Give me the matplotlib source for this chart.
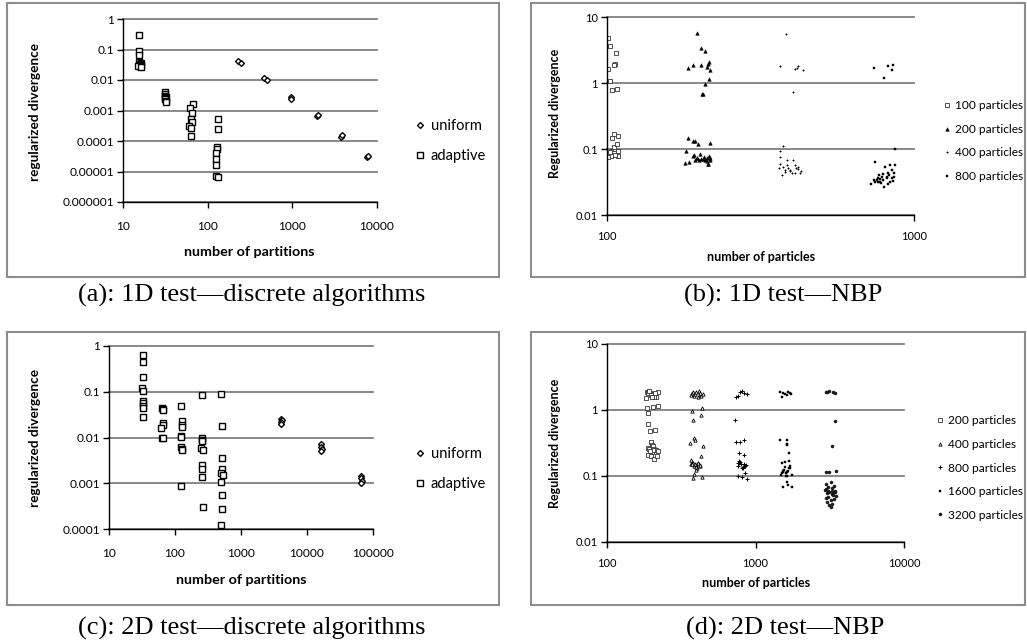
import numpy as np
import matplotlib
matplotlib.use('Agg')
import matplotlib.pyplot as plt
from matplotlib.patches import Rectangle
from matplotlib.ticker import FixedLocator, FuncFormatter, NullLocator

plt.rcParams['font.family'] = ['Lato', 'DejaVu Sans']

# ---- (a) 1D test, discrete algorithms ----
a_uni_x = [230, 246, 468, 499, 955, 960, 1930, 1990, 3750, 3900, 7620, 7750]
a_uni_y = [0.041, 0.037, 0.0118, 0.0099, 0.0027, 0.0024, 0.00066, 0.00072,
           0.000139, 0.000163, 3.1e-5, 3.25e-5]
a_ada_x = [15.5, 15.4, 15.6, 15.3, 16.2, 15.8, 16.5, 15.5, 16.0, 15.2, 16.4,
           31.5, 31.5, 31.0, 31.8, 31.2, 31.5, 32.0, 32.5,
           66.5, 61.5, 65.5, 63.5, 66, 61, 64, 64,
           133, 133, 128, 129, 125, 127, 127, 125, 133]
a_ada_y = [0.31, 0.088, 0.068, 0.038, 0.036, 0.034, 0.032, 0.030, 0.029, 0.028, 0.027,
           0.0040, 0.0035, 0.0030, 0.0027, 0.0025, 0.0023, 0.0021, 0.0019,
           0.0016, 0.0012, 0.00080, 0.00053, 0.00041, 0.00032, 0.00027, 0.000141,
           0.00053, 0.00024, 6.6e-5, 5.6e-5, 4.1e-5, 2.5e-5, 1.65e-5, 6.9e-6, 6.7e-6]

# ---- (c) 2D test, discrete algorithms ----
c_uni_x = [4100, 4150, 4050, 4100, 16500, 16300, 16600, 16400, 66000, 65000, 67000, 66000]
c_uni_y = [0.026, 0.024, 0.022, 0.0197, 0.0071, 0.0063, 0.0056, 0.0050,
           0.00147, 0.0013, 0.0011, 0.00101]
c_ada_x = [32.7, 32.7, 32.7, 32, 33.3, 32.5, 32.7, 32.5, 33, 32.5,
           63, 65, 66, 66, 65, 62, 64, 65,
           125, 128, 127, 128, 124, 125, 124, 127, 126, 124,
           258, 255, 258, 260, 248, 262, 258, 258, 256, 262,
           497, 515, 520, 515, 495, 530, 505, 512, 520, 500]
c_ada_y = [0.65, 0.45, 0.21, 0.118, 0.103, 0.064, 0.058, 0.048, 0.045, 0.028,
           0.045, 0.041, 0.039, 0.021, 0.019, 0.016, 0.010, 0.0097,
           0.05, 0.023, 0.019, 0.017, 0.011, 0.0102, 0.0062, 0.0056, 0.0054, 0.00085,
           0.084, 0.0097, 0.0089, 0.0082, 0.0059, 0.0053, 0.0025, 0.0021, 0.0014, 0.00031,
           0.089, 0.018, 0.0035, 0.0020, 0.0017, 0.0015, 0.00104, 0.00056, 0.00028, 0.000124]

# ---- (b) 1D test, NBP ----
b100_x = [101, 102, 107, 101, 106, 105, 102, 104, 108, 105, 109, 104, 105, 108, 103, 109, 105, 106, 103, 109, 101, 102]
b100_y = [4.86, 3.64, 2.88, 1.65, 1.96, 1.85, 1.07, 0.77, 0.80, 0.17, 0.16, 0.146, 0.108, 0.117,
          0.094, 0.079, 0.086, 0.082, 0.078, 0.092, 0.076, 0.089]
b200_x = [197, 203, 209, 183, 191, 203, 215, 214, 211, 216, 215, 208, 204, 206,
          184, 191, 193, 198, 217, 181,
          180, 185, 190, 192, 193, 196, 201, 203, 207, 209, 211, 213, 215, 216, 211, 205, 200, 197, 214, 217]
b200_y = [5.8, 3.4, 3.1, 1.67, 1.9, 1.85, 2.1, 1.96, 1.75, 1.6, 1.16, 0.95, 0.68, 0.69,
          0.149, 0.13, 0.13, 0.119, 0.125, 0.094,
          0.062, 0.063, 0.077, 0.081, 0.069, 0.073, 0.085, 0.071, 0.075, 0.069, 0.065, 0.060,
          0.078, 0.073, 0.072, 0.070, 0.069, 0.072, 0.059, 0.068]
b400_x = [384, 365, 410, 420, 435, 415, 403, 374, 365, 367, 385, 405, 366, 375, 380, 385, 390,
          372, 395, 400, 410, 414, 426, 428, 395, 379, 420, 410, 363, 418]
b400_y = [5.5, 1.81, 1.65, 1.81, 1.6, 1.7, 0.73, 0.112, 0.094, 0.0745, 0.069, 0.069, 0.059,
          0.053, 0.048, 0.057, 0.051, 0.040, 0.046, 0.044, 0.057, 0.051, 0.044, 0.047, 0.048,
          0.045, 0.049, 0.043, 0.051, 0.053]
b800_x = [740, 825, 855, 850, 800, 870, 745, 725, 745, 755, 765, 775, 785, 790, 800, 805, 815,
          820, 825, 830, 838, 845, 850, 855, 860, 865, 765, 780, 740, 775, 815, 835, 862, 770, 790]
b800_y = [1.71, 1.81, 1.9, 1.6, 1.21, 0.1, 0.064, 0.030, 0.032, 0.034, 0.036, 0.032, 0.038,
          0.034, 0.027, 0.053, 0.038, 0.043, 0.029, 0.040, 0.057, 0.036, 0.048, 0.033, 0.043,
          0.058, 0.032, 0.031, 0.034, 0.035, 0.036, 0.032, 0.038, 0.040, 0.042]

# ---- (d) 2D test, NBP ----
d200_x = [185, 190, 195, 200, 205, 210, 215, 220, 188, 198, 208, 183, 192, 202, 212,
          186, 203, 219, 188, 190, 210, 196, 197, 201, 205, 188, 207, 214, 221, 200, 193,
          190, 199, 208, 216, 205, 196]
d200_y = [1.9, 1.85, 1.8, 1.75, 1.7, 1.65, 1.6, 1.9, 1.8, 1.7, 1.55, 1.5, 1.95, 1.6, 1.8,
          1.06, 1.1, 1.14, 0.89, 0.61, 0.5, 0.48, 0.33, 0.29, 0.28, 0.265, 0.26, 0.25, 0.24,
          0.235, 0.255, 0.21, 0.2, 0.18, 0.2, 0.25, 0.24]
d400_x = [365, 372, 378, 385, 392, 400, 408, 415, 420, 425, 430, 440,
          375, 435, 430, 382, 362, 385, 392, 440, 430, 366,
          385, 370, 410, 395, 375, 420, 390, 405, 380, 425, 400, 372,
          395, 385, 380, 435, 410]
d400_y = [1.7, 1.8, 1.9, 1.65, 1.75, 1.85, 1.6, 1.95, 1.7, 1.8, 1.65, 1.75,
          0.98, 1.07, 0.84, 0.71, 0.32, 0.37, 0.35, 0.28, 0.2, 0.176,
          0.14, 0.15, 0.16, 0.145, 0.155, 0.14, 0.15, 0.13, 0.16, 0.145, 0.135, 0.15,
          0.124, 0.108, 0.093, 0.095, 0.155]
d800_x = [735, 785, 835, 870, 765, 810, 730, 735, 785, 835, 780, 835,
          800, 760, 850, 780, 830, 770, 860, 790, 820, 840, 765, 810,
          765, 810, 880, 850]
d800_y = [1.6, 1.9, 1.8, 1.75, 1.65, 1.95, 0.71, 0.33, 0.33, 0.35, 0.22, 0.21,
          0.15, 0.16, 0.14, 0.17, 0.13, 0.155, 0.145, 0.165, 0.135, 0.15, 0.14, 0.13,
          0.099, 0.097, 0.091, 0.11]
d1600_x = [1465, 1500, 1580, 1660, 1695, 1735, 1620, 1540,
           1455, 1620, 1630, 1620, 1670, 1500, 1580, 1680,
           1600, 1520, 1690, 1480, 1640, 1560, 1720, 1610, 1500, 1660, 1580, 1750, 1540, 1700, 1630,
           1620, 1540, 1660, 1760]
d1600_y = [1.9, 1.6, 1.75, 1.9, 1.8, 1.75, 1.7, 1.8,
           0.35, 0.35, 0.31, 0.30, 0.22, 0.16, 0.165, 0.17,
           0.11, 0.12, 0.13, 0.105, 0.115, 0.125, 0.14, 0.1, 0.11, 0.12, 0.135, 0.105, 0.115, 0.13, 0.1,
           0.082, 0.069, 0.074, 0.067]
d3200_x = [2980, 3150, 3350, 3450, 3050, 3450, 3250, 2980, 3150, 3480,
           3200, 3000, 3400, 3100, 3300, 2950, 3450, 3150, 3050, 3350, 3250, 3500,
           3100, 2970, 3380, 3200, 3020, 3300, 3150, 3230, 3080, 3430, 3330, 2990, 3270]
d3200_y = [1.9, 1.95, 1.9, 1.8, 1.9, 0.67, 0.28, 0.114, 0.116, 0.12,
           0.08, 0.075, 0.07, 0.068, 0.065, 0.062, 0.06, 0.058, 0.056, 0.055, 0.053, 0.05,
           0.048, 0.046, 0.045, 0.043, 0.04, 0.038, 0.036, 0.034, 0.06, 0.057, 0.052, 0.063, 0.059]

W, H = 1027, 643
fig = plt.figure(figsize=(W / 100, H / 100), dpi=100)


def px_axes(l, t, r, b):
    return fig.add_axes([l / W, 1 - b / H, (r - l) / W, (b - t) / H])


def ptext(x, y, s, **kw):
    fig.text(x / W, 1 - y / H, s, **kw)


def frame(x0, y0, x1, y1):
    fig.add_artist(Rectangle((x0 / W, 1 - y1 / H), (x1 - x0) / W, (y1 - y0) / H,
                             transform=fig.transFigure, fill=False,
                             ec='#8c8c8c', lw=1.5))


def fmt(v, pos):
    return np.format_float_positional(v, trim='-')


def style(ax, xlim, ylim, fs, pad):
    ax.set_xscale('log')
    ax.set_yscale('log')
    ax.set_xlim(*xlim)
    ax.set_ylim(*ylim)
    xt = [10.0 ** k for k in range(int(np.log10(xlim[0])), int(np.log10(xlim[1])) + 1)]
    yt = [10.0 ** k for k in range(int(round(np.log10(ylim[0]))), int(round(np.log10(ylim[1]))) + 1)]
    ax.xaxis.set_major_locator(FixedLocator(xt))
    ax.yaxis.set_major_locator(FixedLocator(yt))
    ax.xaxis.set_minor_locator(NullLocator())
    ax.yaxis.set_minor_locator(NullLocator())
    ax.xaxis.set_major_formatter(FuncFormatter(fmt))
    ax.yaxis.set_major_formatter(FuncFormatter(fmt))
    ax.tick_params(axis='both', direction='out', length=4, width=1, labelsize=fs, color='black')
    ax.tick_params(axis='x', pad=pad)
    ax.tick_params(axis='y', pad=2.5)
    for s in ['top', 'right']:
        ax.spines[s].set_visible(False)
    for s in ['left', 'bottom']:
        ax.spines[s].set_color('black')
        ax.spines[s].set_linewidth(1.0)
    ax.yaxis.grid(True, color='#808080', lw=1.3)
    ax.set_axisbelow(True)
    for gl in ax.get_ygridlines():
        gl.set_clip_on(False)
    ax.patch.set_alpha(0)


serif = ['Liberation Serif']

# panel (a)
frame(7, 3, 499, 277)
ax = px_axes(123, 19, 377, 202)
style(ax, (10, 10000), (1e-6, 1), 8.6, 10)
ax.plot(a_uni_x, a_uni_y, 'D', ms=3.0, mfc='white', mec='black', mew=1.0, label='uniform')
ax.plot(a_ada_x, a_ada_y, 's', ms=3.8, mfc='white', mec='black', mew=1.0, label='adaptive')
ax.legend(loc='center left', bbox_to_anchor=(416 / W, 1 - 141 / H), bbox_transform=fig.transFigure,
          frameon=False, fontsize=10.5, handlelength=0.6, handletextpad=0.4, labelspacing=1.05,
          borderaxespad=0, borderpad=0)
ptext(35, 112, 'regularized divergence', rotation=90, ha='center', va='center',
      fontsize=9.8, fontweight='bold')
ptext(249, 252, 'number of partitions', ha='center', va='center', fontsize=10.3, fontweight='bold')
ptext(252, 295, '(a): 1D test\u2014discrete algorithms', ha='center', va='center',
      fontsize=19, family=serif)

# panel (c)
frame(7, 332, 499, 605)
ax = px_axes(109, 346, 373, 529)
style(ax, (10, 100000), (1e-4, 1), 8.6, 10)
ax.plot(c_uni_x, c_uni_y, 'D', ms=3.0, mfc='white', mec='black', mew=1.0, label='uniform')
ax.plot(c_ada_x, c_ada_y, 's', ms=3.8, mfc='white', mec='black', mew=1.0, label='adaptive')
ax.legend(loc='center left', bbox_to_anchor=(416 / W, 1 - 469 / H), bbox_transform=fig.transFigure,
          frameon=False, fontsize=10.5, handlelength=0.6, handletextpad=0.4, labelspacing=1.05,
          borderaxespad=0, borderpad=0)
ptext(35, 438, 'regularized divergence', rotation=90, ha='center', va='center',
      fontsize=9.8, fontweight='bold')
ptext(241, 580, 'number of partitions', ha='center', va='center', fontsize=10.3, fontweight='bold')
ptext(252, 628, '(c): 2D test\u2014discrete algorithms', ha='center', va='center',
      fontsize=19, family=serif)

# panel (b)
frame(531, 3, 1025, 277)
ax = px_axes(607, 17, 914, 215)
style(ax, (100, 1000), (0.01, 10), 8, 7.5)
ax.plot(b100_x, b100_y, 's', ms=2.3, mfc='white', mec='#333333', mew=0.6, label='100 particles')
ax.plot(b200_x, b200_y, '^', ms=2.6, mfc='black', mec='black', mew=0.3, label='200 particles')
ax.plot(b400_x, b400_y, '+', ms=1.8, mec='black', mew=0.7, label='400 particles')
ax.plot(b800_x, b800_y, 's', ms=2.0, mfc='black', mec='black', mew=0.3, label='800 particles')
ax.legend(loc='center left', bbox_to_anchor=(944 / W, 1 - 141 / H), bbox_transform=fig.transFigure,
          frameon=False, fontsize=8.6, handlelength=0.5, handletextpad=0.4, labelspacing=1.05,
          borderaxespad=0, borderpad=0)
ptext(555, 113, 'Regularized divergence', rotation=90, ha='center', va='center',
      fontsize=9, fontweight='bold')
ptext(761, 257, 'number of particles', ha='center', va='center', fontsize=9, fontweight='bold')
ptext(783, 295, '(b): 1D test\u2014NBP', ha='center', va='center',
      fontsize=19, family=serif)

# panel (d)
frame(531, 332, 1025, 605)
ax = px_axes(607, 344, 904, 542)
style(ax, (100, 10000), (0.01, 10), 8, 7.5)
ax.plot(d200_x, d200_y, 's', ms=2.3, mfc='white', mec='#333333', mew=0.6, label='200 particles')
ax.plot(d400_x, d400_y, '^', ms=2.4, mfc='white', mec='black', mew=0.6, label='400 particles')
ax.plot(d800_x, d800_y, '+', ms=2.2, mec='black', mew=0.7, label='800 particles')
ax.plot(d1600_x, d1600_y, 's', ms=2.0, mfc='black', mec='black', mew=0.3, label='1600 particles')
ax.plot(d3200_x, d3200_y, 'o', ms=2.2, mfc='#222222', mec='black', mew=0.3, label='3200 particles')
ax.legend(loc='center left', bbox_to_anchor=(937 / W, 1 - 468 / H), bbox_transform=fig.transFigure,
          frameon=False, fontsize=8.6, handlelength=0.5, handletextpad=0.4, labelspacing=1.05,
          borderaxespad=0, borderpad=0)
ptext(555, 443, 'Regularized divergence', rotation=90, ha='center', va='center',
      fontsize=9, fontweight='bold')
ptext(756, 583, 'number of particles', ha='center', va='center', fontsize=9, fontweight='bold')
ptext(785, 628, '(d): 2D test\u2014NBP', ha='center', va='center',
      fontsize=19, family=serif)

fig.savefig('out.png', dpi=100)
